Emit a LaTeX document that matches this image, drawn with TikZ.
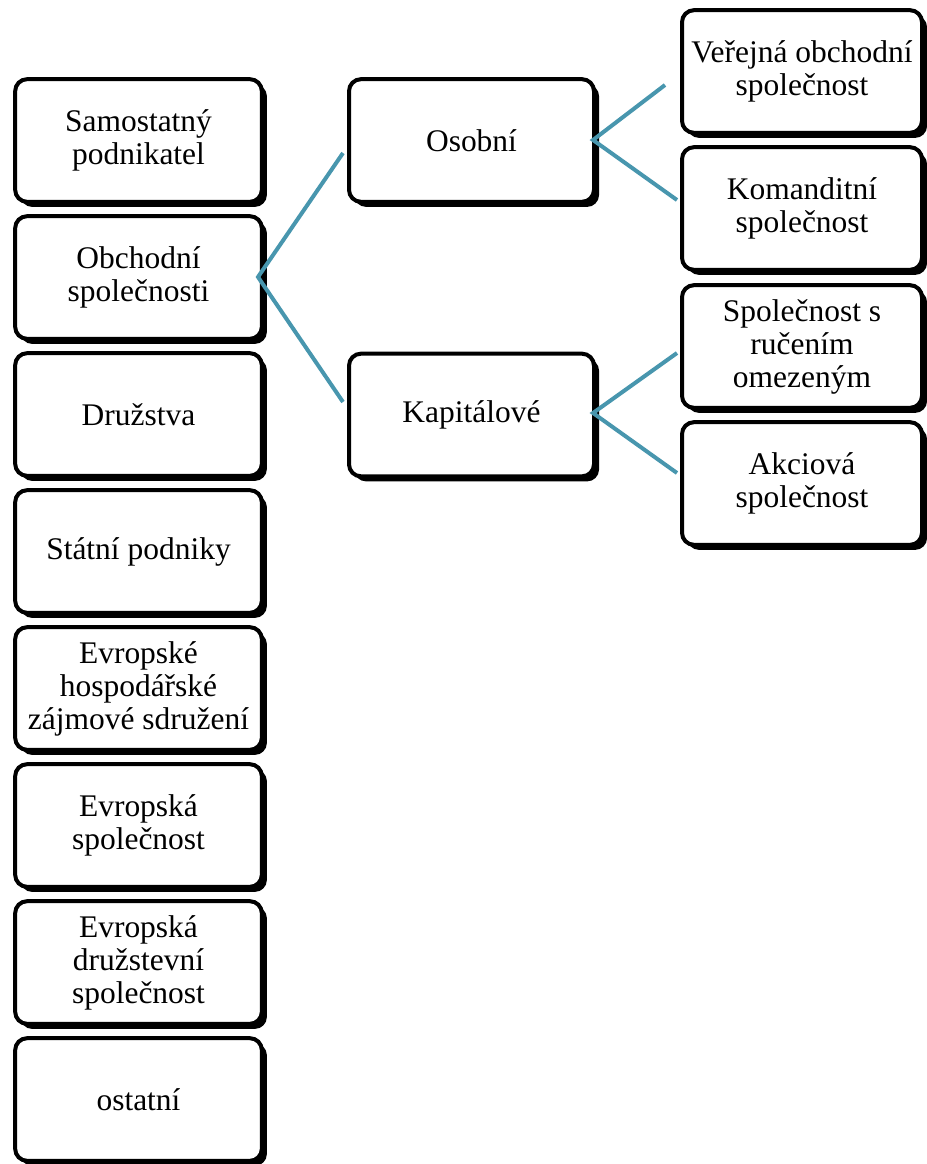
\documentclass[tikz,border=0pt]{standalone}
\usepackage{fontspec}
\setmainfont{Liberation Serif}
\usetikzlibrary{shadows}
\definecolor{conncol}{RGB}{72,150,174}
\begin{document}
\begin{tikzpicture}[x=0.75pt,y=-0.75pt,
  box/.style={draw=black, line width=3pt, fill=white, rounded corners=9pt,
    align=center, inner sep=0pt, font=\fontsize{23.6}{24.75}\selectfont,
    drop shadow={shadow xshift=3.8pt, shadow yshift=-3.8pt, opacity=1, fill=black}},
  lbox/.style={box, minimum width=185pt, minimum height=92pt},
  mbox/.style={box, minimum width=183.75pt, minimum height=92pt},
  rbox/.style={box, minimum width=180pt, minimum height=92pt},
  link/.style={draw=conncol, line width=3pt}]
\useasboundingbox (0,0) rectangle (926,1164);
% left column
\node[lbox] (samo) at (138.5,140.5) {Samostatný\\podnikatel};
\node[lbox] (obch) at (138.5,277.5) {Obchodní\\společnosti};
\node[lbox] (druz) at (138.5,414.5) {Družstva};
\node[lbox] (stat) at (138.5,551.5) {Státní podniky};
\node[lbox] (ehz) at (138.5,688.5) {Evropské\\hospodářské\\zájmové sdružení};
\node[lbox] (es) at (138.5,825.5) {Evropská\\společnost};
\node[lbox] (eds) at (138.5,962.5) {Evropská\\družstevní\\společnost};
\node[lbox] (ost) at (138.5,1099.5) {ostatní};
% middle column
\node[mbox] (osob) at (471.5,140.5) {Osobní};
\node[mbox] (kap) at (471.5,415) {Kapitálové};
% right column
\node[rbox] (vos) at (802,71.5) {Veřejná obchodní\\společnost};
\node[rbox] (ks) at (802,208.5) {Komanditní\\společnost};
\node[rbox] (sro) at (802,346.5) {Společnost s\\ručením\\omezeným};
\node[rbox] (as) at (802,483.5) {Akciová\\společnost};
% connector ends
\coordinate (c1) at (343,153);
\coordinate (c2) at (343,402);
\coordinate (c3) at (665,85);
\coordinate (c4) at (677,200);
\coordinate (c5) at (677,353);
\coordinate (c6) at (677,473);
\coordinate (s1) at (258,277);
\coordinate (s2) at (593,140);
\coordinate (s3) at (593,413);
\draw[link] (c1) -- (s1) -- (c2);
\draw[link] (c3) -- (s2) -- (c4);
\draw[link] (c5) -- (s3) -- (c6);
\end{tikzpicture}
\end{document}
